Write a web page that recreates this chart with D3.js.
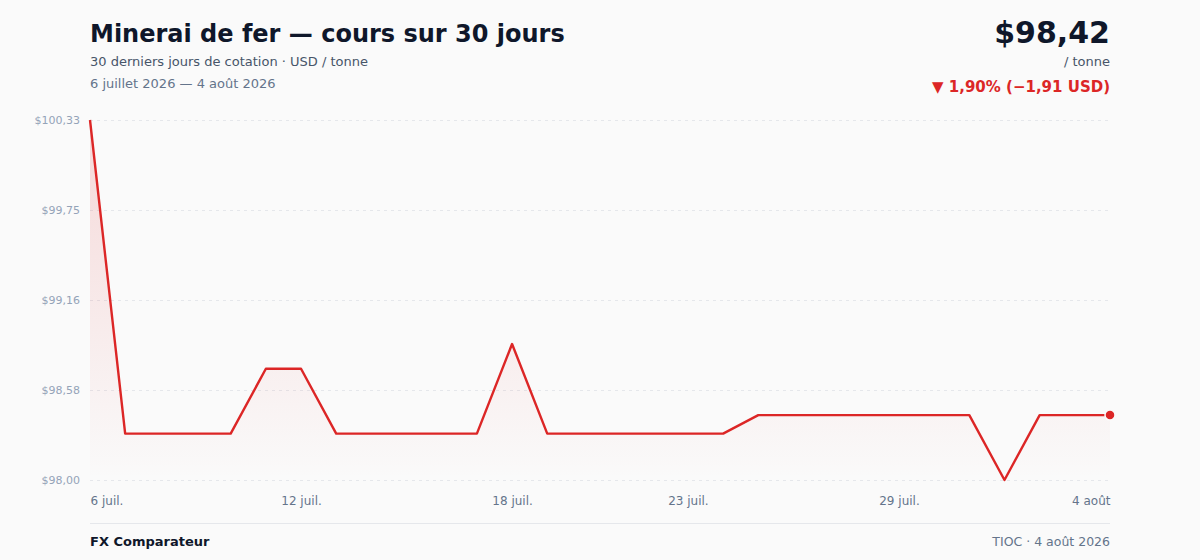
<!DOCTYPE html>
<html lang="fr">
<head>
<meta charset="utf-8">
<script src="https://cdn.jsdelivr.net/npm/d3@7"></script>
<style>
  html, body { margin: 0; padding: 0; background: #fafafa; }
  body { font-family: "DejaVu Sans", sans-serif; }
  #chart { width: 1200px; height: 560px; }
</style>
</head>
<body>
<div id="chart"></div>
<script>
// DATA
const days = d3.range(30).map(i => new Date(2026, 6, 6 + i));
const prices = [
  100.33, 98.30, 98.30, 98.30, 98.30, 98.72, 98.72, 98.30, 98.30, 98.30,
  98.30, 98.30, 98.88, 98.30, 98.30, 98.30, 98.30, 98.30, 98.30, 98.42,
  98.42, 98.42, 98.42, 98.42, 98.42, 98.42, 98.00, 98.42, 98.42, 98.42
];
const yTickValues = [98.00, 98.5825, 99.165, 99.7475, 100.33];
const yTickLabels = ["$98,00", "$98,58", "$99,16", "$99,75", "$100,33"];
const xTickIndex = [0, 6, 12, 17, 23, 29];
const xTickLabels = ["6 juil.", "12 juil.", "18 juil.", "23 juil.", "29 juil.", "4 août"];

const width = 1200, height = 560;
const margin = { left: 90, right: 90, top: 120, bottom: 80 };
const red = "#dc2626";

const svg = d3.select("#chart").append("svg")
  .attr("width", width)
  .attr("height", height);

// SCALES
const xScale = d3.scaleTime()
  .domain(d3.extent(days))
  .range([margin.left, width - margin.right]);

const yScale = d3.scaleLinear()
  .domain([d3.min(prices), d3.max(prices)])
  .range([height - margin.bottom, margin.top]);

// GRADIENT
const grad = svg.append("defs").append("linearGradient")
  .attr("id", "fillGrad")
  .attr("x1", 0).attr("y1", 0).attr("x2", 0).attr("y2", 1);
grad.append("stop").attr("offset", "0%").attr("stop-color", red).attr("stop-opacity", 0.16);
grad.append("stop").attr("offset", "100%").attr("stop-color", red).attr("stop-opacity", 0);

// GRID + Y AXIS
const yAxis = d3.axisLeft(yScale)
  .tickValues(yTickValues)
  .tickFormat((d, i) => yTickLabels[i])
  .tickSize(-(width - margin.left - margin.right))
  .tickPadding(10);

const yAxisGroup = svg.append("g")
  .attr("transform", `translate(${margin.left},0)`)
  .call(yAxis);
yAxisGroup.select(".domain").remove();
yAxisGroup.selectAll(".tick line")
  .attr("stroke", "#e5e7eb")
  .attr("stroke-dasharray", "3,4");
yAxisGroup.selectAll(".tick text")
  .attr("fill", "#94a3b8")
  .attr("font-size", 11)
  .attr("font-family", "DejaVu Sans");

// X AXIS
const xAxis = d3.axisBottom(xScale)
  .tickValues(xTickIndex.map(i => days[i]))
  .tickFormat((d, i) => xTickLabels[i])
  .tickSize(0)
  .tickPadding(16);

const xAxisGroup = svg.append("g")
  .attr("transform", `translate(0,${height - margin.bottom})`)
  .call(xAxis);
xAxisGroup.select(".domain").remove();
xAxisGroup.selectAll(".tick text")
  .attr("fill", "#64748b")
  .attr("font-size", 12)
  .attr("font-family", "DejaVu Sans")
  .attr("text-anchor", (d, i) => i === 0 ? "start" : (i === xTickLabels.length - 1 ? "end" : "middle"));

// AREA + LINE
const area = d3.area()
  .x((d, i) => xScale(days[i]))
  .y0(yScale(d3.min(prices)))
  .y1(d => yScale(d));

svg.append("path")
  .datum(prices)
  .attr("d", area)
  .attr("fill", "url(#fillGrad)");

const line = d3.line()
  .x((d, i) => xScale(days[i]))
  .y(d => yScale(d));

svg.append("path")
  .datum(prices)
  .attr("d", line)
  .attr("fill", "none")
  .attr("stroke", red)
  .attr("stroke-width", 2.4)
  .attr("stroke-linejoin", "round");

const last = prices.length - 1;
svg.append("circle")
  .attr("cx", xScale(days[last]))
  .attr("cy", yScale(prices[last]))
  .attr("r", 5)
  .attr("fill", red)
  .attr("stroke", "#fafafa")
  .attr("stroke-width", 1.5);

// HEADER
svg.append("text")
  .attr("x", 90).attr("y", 42)
  .attr("font-size", 24).attr("font-weight", "bold")
  .attr("fill", "#0f172a")
  .text("Minerai de fer — cours sur 30 jours");

svg.append("text")
  .attr("x", 90).attr("y", 66)
  .attr("font-size", 13).attr("fill", "#475569")
  .text("30 derniers jours de cotation · USD / tonne");

svg.append("text")
  .attr("x", 90).attr("y", 88)
  .attr("font-size", 13).attr("fill", "#64748b")
  .text("6 juillet 2026 — 4 août 2026");

svg.append("text")
  .attr("x", 1110).attr("y", 43)
  .attr("text-anchor", "end")
  .attr("font-size", 30).attr("font-weight", "bold")
  .attr("fill", "#0f172a")
  .text("$98,42");

svg.append("text")
  .attr("x", 1110).attr("y", 66)
  .attr("text-anchor", "end")
  .attr("font-size", 13).attr("fill", "#475569")
  .text("/ tonne");

svg.append("text")
  .attr("x", 1110).attr("y", 92)
  .attr("text-anchor", "end")
  .attr("font-size", 15).attr("font-weight", "bold")
  .attr("fill", red)
  .text("▼ 1,90% (−1,91 USD)");

// FOOTER
svg.append("line")
  .attr("x1", 90).attr("x2", 1110)
  .attr("y1", 523.5).attr("y2", 523.5)
  .attr("stroke", "#e5e7eb");

svg.append("text")
  .attr("x", 90).attr("y", 546)
  .attr("font-size", 13).attr("font-weight", "bold")
  .attr("fill", "#0f172a")
  .text("FX Comparateur");

svg.append("text")
  .attr("x", 1110).attr("y", 546)
  .attr("text-anchor", "end")
  .attr("font-size", 12.5).attr("fill", "#64748b")
  .text("TIOC · 4 août 2026");
</script>
</body>
</html>
